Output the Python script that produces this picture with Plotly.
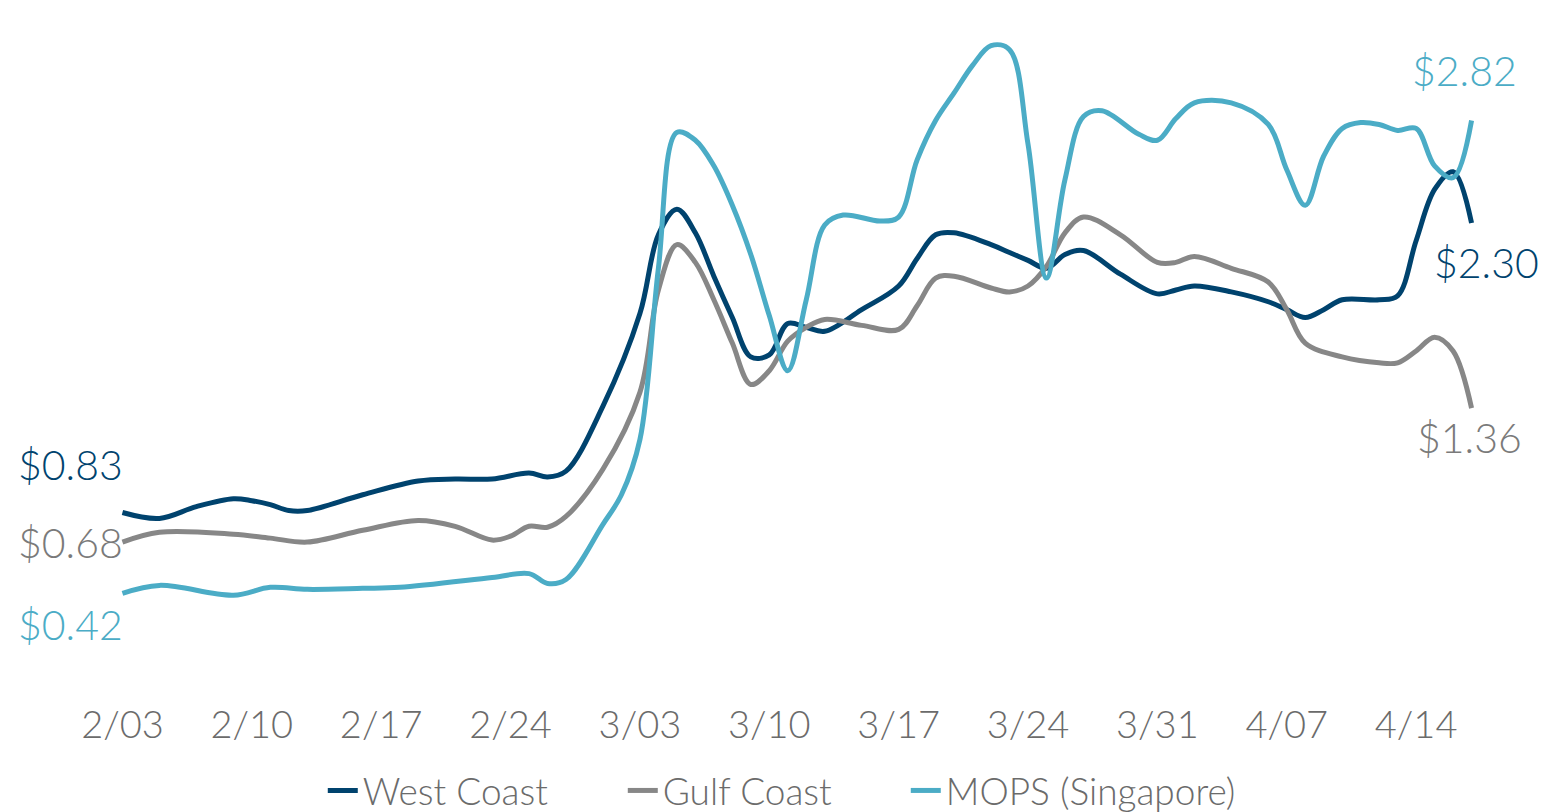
import plotly.graph_objects as go

YEAR = "2022"

# West Coast
west_dates = ["02-03", "02-05", "02-07", "02-09", "02-10", "02-11", "02-12", "02-13", "02-16", "02-19",
              "02-21", "02-23", "02-25", "02-26", "02-27", "03-01", "03-03", "03-04", "03-05", "03-06",
              "03-07", "03-08", "03-09", "03-10", "03-11", "03-12", "03-13", "03-15", "03-17", "03-18",
              "03-19", "03-20", "03-22", "03-23", "03-24", "03-25", "03-26", "03-27", "03-29", "03-31",
              "04-01", "04-02", "04-04", "04-06", "04-07", "04-08", "04-09", "04-10", "04-12", "04-13",
              "04-14", "04-15", "04-16", "04-17"]
west_values = [0.83, 0.80, 0.86, 0.90, 0.89, 0.87, 0.84, 0.84, 0.92, 0.99,
               1.00, 1.00, 1.03, 1.01, 1.04, 1.37, 1.84, 2.24, 2.37, 2.25,
               2.03, 1.82, 1.62, 1.63, 1.79, 1.77, 1.75, 1.86, 1.98, 2.12,
               2.24, 2.25, 2.19, 2.15, 2.11, 2.07, 2.14, 2.16, 2.04, 1.94,
               1.96, 1.98, 1.95, 1.90, 1.86, 1.82, 1.86, 1.91, 1.91, 1.93,
               2.21, 2.47, 2.56, 2.30]

# Gulf Coast
gulf_dates = ["02-03", "02-05", "02-09", "02-11", "02-13", "02-16", "02-19", "02-21", "02-23", "02-24",
              "02-25", "02-26", "02-27", "03-01", "03-03", "03-04", "03-05", "03-06", "03-07", "03-08",
              "03-09", "03-10", "03-11", "03-12", "03-13", "03-15", "03-17", "03-18", "03-19", "03-20",
              "03-22", "03-23", "03-24", "03-25", "03-26", "03-27", "03-29", "03-31", "04-01", "04-02",
              "04-04", "04-06", "04-07", "04-08", "04-10", "04-12", "04-13", "04-14", "04-15", "04-16",
              "04-17"]
gulf_values = [0.68, 0.73, 0.72, 0.70, 0.68, 0.74, 0.79, 0.76, 0.69, 0.71,
               0.76, 0.755, 0.81, 1.05, 1.44, 1.96, 2.19, 2.10, 1.91, 1.69,
               1.48, 1.55, 1.70, 1.77, 1.81, 1.78, 1.76, 1.88, 2.02, 2.03,
               1.97, 1.95, 1.98, 2.08, 2.25, 2.33, 2.24, 2.10, 2.10, 2.13,
               2.07, 2.00, 1.86, 1.69, 1.62, 1.59, 1.59, 1.65, 1.72, 1.65,
               1.36]

# MOPS (Singapore)
mops_dates = ["02-03", "02-05", "02-09", "02-11", "02-13", "02-16", "02-18", "02-23", "02-25", "02-26",
              "02-27", "03-01", "03-02", "03-03", "03-04", "03-05", "03-06", "03-07", "03-08", "03-09",
              "03-10", "03-11", "03-12", "03-13", "03-14", "03-16", "03-17", "03-18", "03-19", "03-20",
              "03-21", "03-22", "03-23", "03-24", "03-25", "03-26", "03-27", "03-28", "03-30", "03-31",
              "04-01", "04-02", "04-04", "04-06", "04-07", "04-08", "04-09", "04-10", "04-11", "04-12",
              "04-13", "04-14", "04-15", "04-16", "04-17"]
mops_values = [0.42, 0.46, 0.41, 0.45, 0.44, 0.445, 0.45, 0.50, 0.52, 0.47,
               0.49, 0.77, 0.92, 1.20, 2.07, 2.76, 2.72, 2.59, 2.39, 2.14,
               1.83, 1.55, 1.91, 2.29, 2.34, 2.31, 2.33, 2.62, 2.82, 2.96,
               3.10, 3.20, 3.18, 2.70, 2.02, 2.52, 2.84, 2.87, 2.75, 2.72,
               2.83, 2.91, 2.91, 2.80, 2.57, 2.39, 2.64, 2.78, 2.81, 2.80,
               2.77, 2.78, 2.59, 2.53, 2.82]

series = [
    ("West Coast", west_dates, west_values, "#00436E", 255),
    ("Gulf Coast", gulf_dates, gulf_values, "#878787", 238),
    ("MOPS (Singapore)", mops_dates, mops_values, "#4BACC6", 300),
]

FONT = "Lato"
TEXT_GRAY = "#6B6B6B"

fig = go.Figure()
for name, dates, values, color, legend_w in series:
    fig.add_trace(go.Scatter(
        x=[f"{YEAR}-{d}" for d in dates],
        y=values,
        mode="lines",
        name=name,
        legendwidth=legend_w,
        line=dict(color=color, width=5, shape="spline", smoothing=1.0),
    ))

# start / end value labels, shifted away from the line ends
label_offsets = {
    "West Coast": ((0, 48), (15, -40)),
    "Gulf Coast": ((0, 0), (-2, -29)),
    "MOPS (Singapore)": ((0, -31), (-7, 50)),
}
label_colors = {"West Coast": "#00436E", "Gulf Coast": "#7A7A7A", "MOPS (Singapore)": "#4BACC6"}
for name, dates, values, color, _ in series:
    (sx, sy), (ex, ey) = label_offsets[name]
    fig.add_annotation(
        x=f"{YEAR}-{dates[0]}", y=values[0], text=f"${values[0]:.2f}",
        showarrow=False, xanchor="right", yanchor="middle", xshift=sx + 3, yshift=sy,
        font=dict(family=FONT, size=41, color=label_colors[name], weight=300),
    )
    fig.add_annotation(
        x=f"{YEAR}-{dates[-1]}", y=values[-1], text=f"${values[-1]:.2f}",
        showarrow=False, xanchor="center", yanchor="middle", xshift=ex, yshift=ey,
        font=dict(family=FONT, size=41, color=label_colors[name], weight=300),
    )

fig.update_layout(
    width=1544, height=812,
    margin=dict(l=67, r=17, t=26, b=136),
    paper_bgcolor="white", plot_bgcolor="white",
    showlegend=True,
    legend=dict(
        orientation="h", x=0.493, xanchor="center",
        yref="container", y=0.026, yanchor="middle",
        font=dict(family=FONT, size=37, color=TEXT_GRAY, weight=300),
        itemwidth=30, traceorder="normal",
    ),
    xaxis=dict(
        type="date",
        range=[f"{YEAR}-01-31", f"{YEAR}-04-20"],
        tick0=f"{YEAR}-02-03", dtick=7 * 24 * 3600 * 1000,
        tickformat="%-m/%d",
        showgrid=False, zeroline=False, showline=False,
        ticks="", ticklabelstandoff=23,
        tickfont=dict(family=FONT, size=38, color=TEXT_GRAY, weight=300),
    ),
    yaxis=dict(
        range=[0, 3.3],
        showgrid=False, zeroline=False, showline=False,
        showticklabels=False, ticks="",
    ),
)

fig.write_html("out.html")
